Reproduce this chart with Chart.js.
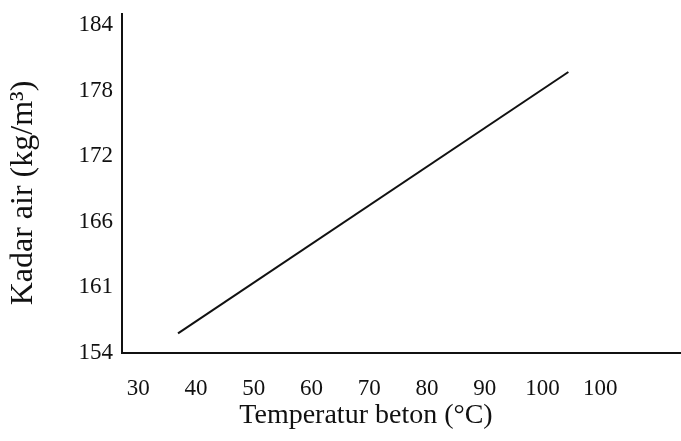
<!DOCTYPE html>
<html>
<head>
<meta charset="utf-8">
<script src="https://cdn.jsdelivr.net/npm/chart.js@4/dist/chart.umd.min.js"></script>
<style>
  html, body { margin: 0; padding: 0; background: #fff; }
  #wrap { width: 681px; height: 441px; position: relative; }
</style>
</head>
<body>
<div id="wrap"><canvas id="c" width="681" height="441"></canvas></div>
<script>
// Data
const temperature = [36.9, 104.5];          // x values (°C)
const waterContent = [155.8, 179.7];        // y values (kg/m3)
const xTickValues = [30, 40, 50, 60, 70, 80, 90, 100, 110];
const xTickLabels = ['30', '40', '50', '60', '70', '80', '90', '100', '100'];
const yTickValues = [154, 160, 166, 172, 178, 184];
const yTickLabels = ['154', '161', '166', '172', '178', '184'];
const xTitle = 'Temperatur beton (\u00B0C)';
const yTitle = 'Kadar air (kg/m\u00B3)';

const FONT = "'Liberation Serif', 'DejaVu Serif', serif";
const INK = '#111';

const titlePlugin = {
  id: 'axisTitles',
  afterDraw(chart) {
    const ctx = chart.ctx;
    const area = chart.chartArea;
    ctx.save();
    ctx.fillStyle = INK;
    ctx.textAlign = 'center';
    ctx.textBaseline = 'middle';
    ctx.font = "28px " + FONT;
    ctx.fillText(xTitle, area.left + 244, area.bottom + 63);
    ctx.translate(24, area.top + 179);
    ctx.rotate(-Math.PI / 2);
    ctx.font = "32px " + FONT;
    ctx.fillText(yTitle, 0, 0);
    ctx.restore();
  }
};

new Chart(document.getElementById('c'), {
  type: 'scatter',
  data: {
    datasets: [{
      data: temperature.map((t, i) => ({ x: t, y: waterContent[i] })),
      showLine: true,
      borderColor: INK,
      borderWidth: 2,
      pointRadius: 0,
      fill: false
    }]
  },
  options: {
    responsive: false,
    animation: false,
    devicePixelRatio: 1,
    layout: { padding: { left: 0, top: 14, right: 0, bottom: 0 } },
    plugins: { legend: { display: false }, tooltip: { enabled: false } },
    scales: {
      x: {
        type: 'linear',
        min: 27.2,
        max: 124,
        afterBuildTicks(scale) { scale.ticks = xTickValues.map(v => ({ value: v })); },
        afterFit(scale) { scale.height = 88; scale.paddingLeft = 0; scale.paddingRight = 0; },
        grid: { display: false, drawTicks: false },
        border: { display: true, color: INK, width: 2 },
        ticks: {
          autoSkip: false,
          maxRotation: 0,
          padding: 22,
          color: INK,
          font: { family: FONT, size: 23 },
          callback: (v, i) => xTickLabels[i]
        }
      },
      y: {
        type: 'linear',
        min: 154,
        max: 185,
        afterBuildTicks(scale) { scale.ticks = yTickValues.map(v => ({ value: v })); },
        afterFit(scale) { scale.width = 122; scale.paddingTop = 0; scale.paddingBottom = 0; },
        grid: { display: false, drawTicks: false },
        border: { display: true, color: INK, width: 2 },
        ticks: {
          autoSkip: false,
          padding: 9,
          color: INK,
          font: { family: FONT, size: 23 },
          callback: (v, i) => yTickLabels[i]
        }
      }
    }
  },
  plugins: [titlePlugin]
});
</script>
</body>
</html>
